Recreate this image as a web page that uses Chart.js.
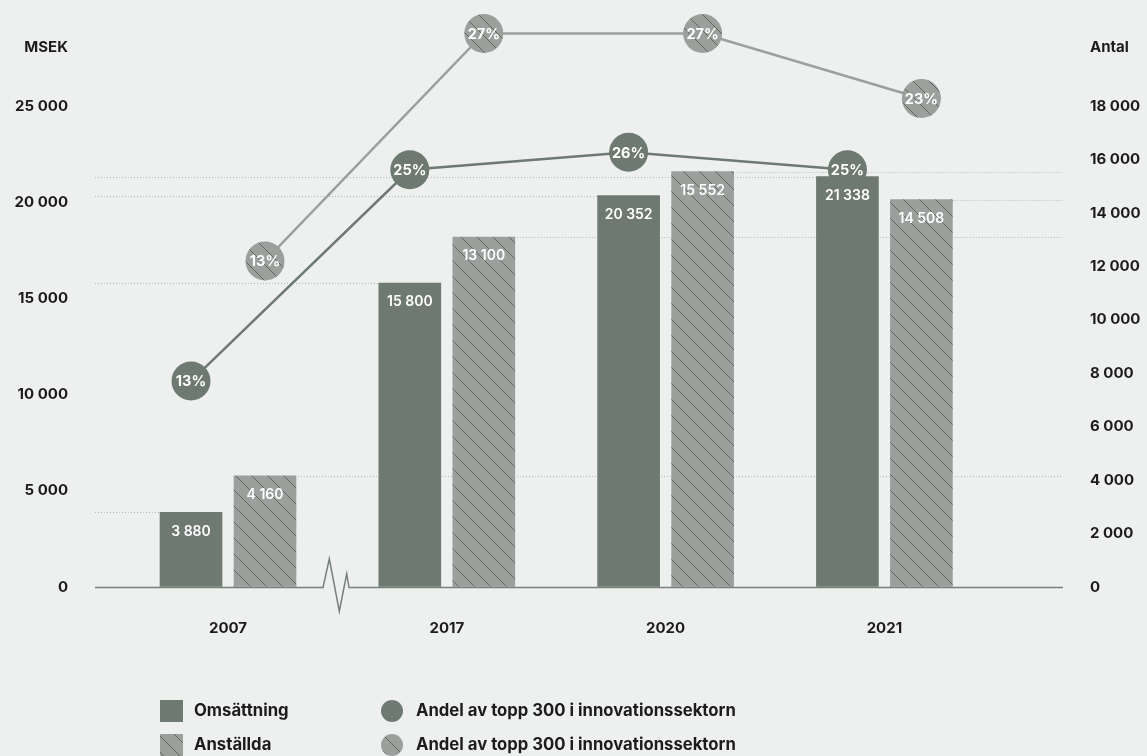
<!DOCTYPE html>
<html lang="sv">
<head>
<meta charset="UTF-8">
<title>Omsättning och anställda</title>
<script src="https://cdn.jsdelivr.net/npm/chart.js"></script>
<style>
  html, body { margin: 0; padding: 0; background: #eef0ef; }
  #wrap { position: relative; width: 1147px; height: 756px; }
</style>
</head>
<body>
<div id="wrap"><canvas id="myChart"></canvas></div>
<script>
const categories = ['2007', '2017', '2020', '2021'];
const omsattning = [3880, 15800, 20352, 21338];   // MSEK
const anstallda = [4160, 13100, 15552, 14508];    // Antal
const andelDark = [13, 25, 26, 25];               // %
const andelLight = [13, 27, 27, 23];              // %
const leftTicks = [0, 5000, 10000, 15000, 20000, 25000];
const rightTicks = [0, 2000, 4000, 6000, 8000, 10000, 12000, 14000, 16000, 18000];
const legendLabels = ['Omsättning', 'Anställda', 'Andel av topp 300 i innovationssektorn', 'Andel av topp 300 i innovationssektorn'];

const DARK = '#6d7971';
const LIGHT = '#9ba09c';
const HATCH = '#5f6b63';
const TEXT = '#1c1c1c';
const FONT = 'Inter, "Noto Sans", sans-serif';

const canvas = document.getElementById('myChart');

// diagonal hatch "\\\\"
function makeHatch() {
  const c = document.createElement('canvas');
  c.width = 16; c.height = 16;
  const g = c.getContext('2d');
  g.fillStyle = LIGHT;
  g.fillRect(0, 0, 16, 16);
  g.strokeStyle = HATCH;
  g.lineWidth = 1;
  g.beginPath();
  g.moveTo(-2, -2); g.lineTo(18, 18);
  g.stroke();
  return canvas.getContext('2d').createPattern(c, 'repeat');
}
const hatch = makeHatch();

function fmt(v) {
  return String(v).replace(/\B(?=(\d{3})+(?!\d))/g, ' ');
}
function pts(arr) {
  return arr.map((v, i) => ({x: i, y: v}));
}

const decor = {
  id: 'decor',
  beforeDatasetsDraw(chart) {
    // dotted guide from each bar top to its own axis
    const {ctx, chartArea} = chart;
    ctx.save();
    ctx.strokeStyle = '#b3b8b4';
    ctx.lineWidth = 1;
    ctx.setLineDash([1, 2]);
    [0, 1].forEach(di => {
      chart.getDatasetMeta(di).data.forEach(el => {
        const y = Math.round(el.y) + 0.5;
        ctx.beginPath();
        if (di === 0) { ctx.moveTo(chartArea.left, y); ctx.lineTo(el.x, y); }
        else { ctx.moveTo(el.x, y); ctx.lineTo(chartArea.right, y); }
        ctx.stroke();
      });
    });
    ctx.restore();
  },
  afterDatasetsDraw(chart) {
    const ctx = chart.ctx;
    ctx.save();
    ctx.fillStyle = '#ffffff';
    ctx.textAlign = 'center';
    ctx.textBaseline = 'middle';
    ctx.font = '600 14px ' + FONT;
    [0, 1].forEach(di => {
      const vals = di === 0 ? omsattning : anstallda;
      chart.getDatasetMeta(di).data.forEach((el, i) => {
        ctx.fillText(fmt(vals[i]), el.x, el.y + 19);
      });
    });
    ctx.font = '700 14.5px ' + FONT;
    [2, 3].forEach(di => {
      const vals = di === 2 ? andelDark : andelLight;
      chart.getDatasetMeta(di).data.forEach((el, i) => {
        ctx.fillText(vals[i] + '%', el.x, el.y + 1);
      });
    });
    ctx.restore();
  },
  afterDraw(chart) {
    const {ctx, chartArea} = chart;
    const xs = chart.scales.x;
    const base = Math.round(chartArea.bottom) + 0.5;
    const mid = xs.getPixelForValue(0.5);
    ctx.save();
    // x axis line with break
    ctx.strokeStyle = '#76817a';
    ctx.lineWidth = 1.5;
    ctx.beginPath();
    ctx.moveTo(chartArea.left, base);
    ctx.lineTo(mid - 14.4, base);
    ctx.lineTo(mid - 8.1, base - 28.7);
    ctx.lineTo(mid + 1.9, base + 23.7);
    ctx.lineTo(mid + 9.3, base - 13.7);
    ctx.lineTo(mid + 11.6, base);
    ctx.lineTo(chartArea.right, base);
    ctx.stroke();

    // axis titles
    ctx.fillStyle = TEXT;
    ctx.font = '700 15px ' + FONT;
    ctx.textBaseline = 'middle';
    ctx.textAlign = 'right';
    ctx.fillText('MSEK', 68, 47);
    ctx.textAlign = 'left';
    ctx.fillText('Antal', 1090, 47);

    // legend
    ctx.fillStyle = DARK;
    ctx.fillRect(160, 700, 23, 22);
    ctx.fillStyle = hatch;
    ctx.fillRect(160, 734, 23, 22);
    ctx.fillStyle = DARK;
    ctx.beginPath(); ctx.arc(392, 711, 11, 0, Math.PI * 2); ctx.fill();
    ctx.fillStyle = hatch;
    ctx.beginPath(); ctx.arc(392, 745, 11, 0, Math.PI * 2); ctx.fill();
    ctx.fillStyle = TEXT;
    ctx.font = '700 16.7px ' + FONT;
    ctx.fillText(legendLabels[0], 194, 711);
    ctx.fillText(legendLabels[1], 194, 745);
    ctx.fillText(legendLabels[2], 416, 711);
    ctx.fillText(legendLabels[3], 416, 745);
    ctx.restore();
  }
};

const tickFont = {family: FONT, size: 15, weight: '700'};
// invisible tick marks push the labels away from the plot (ticks.padding would also pad the top)
const yGrid = {display: true, drawOnChartArea: false, drawTicks: true, tickLength: 27, color: 'rgba(0,0,0,0)'};

const configs = {
  type: 'bar',
  data: {
    datasets: [
      {
        type: 'bar', label: legendLabels[0], data: pts(omsattning),
        backgroundColor: DARK, xAxisID: 'xDark', yAxisID: 'y', order: 2,
        grouped: false, barThickness: 62
      },
      {
        type: 'bar', label: legendLabels[1], data: pts(anstallda),
        backgroundColor: hatch, xAxisID: 'xLight', yAxisID: 'y1', order: 2,
        grouped: false, barThickness: 62
      },
      {
        type: 'line', label: legendLabels[2], data: pts(andelDark),
        borderColor: DARK, borderWidth: 2.5, tension: 0,
        pointRadius: 19.5, pointHoverRadius: 19.5, pointBackgroundColor: DARK, pointBorderWidth: 0,
        xAxisID: 'xDark', yAxisID: 'yDark', order: 1, clip: false
      },
      {
        type: 'line', label: legendLabels[3], data: pts(andelLight),
        borderColor: LIGHT, borderWidth: 2.5, tension: 0,
        pointRadius: 19.5, pointHoverRadius: 19.5, pointBackgroundColor: hatch, pointBorderWidth: 0,
        xAxisID: 'xLight', yAxisID: 'yLight', order: 1, clip: false
      }
    ]
  },
  options: {
    responsive: true,
    maintainAspectRatio: false,
    animation: false,
    events: [],
    layout: {padding: {top: 9, bottom: 109, left: 0, right: 0}},
    plugins: {legend: {display: false}, tooltip: {enabled: false}},
    scales: {
      x: {
        type: 'linear', position: 'bottom', min: -0.6079, max: 3.8162, offset: false,
        grid: {display: false, drawTicks: false}, border: {display: false},
        afterBuildTicks: s => { s.ticks = categories.map((c, i) => ({value: i})); },
        afterFit: s => { s.height = 60; },
        ticks: {callback: v => categories[v], padding: 32, font: tickFont, color: TEXT, autoSkip: false, maxRotation: 0}
      },
      // same scale as x, shifted so each series sits on its own bar slot
      xDark: {type: 'linear', axis: 'x', position: 'bottom', display: false, offset: false, min: -0.6079 + 0.1691, max: 3.8162 + 0.1691},
      xLight: {type: 'linear', axis: 'x', position: 'bottom', display: false, offset: false, min: -0.6079 - 0.1691, max: 3.8162 - 0.1691},
      y: {
        position: 'left', min: 0, max: 29512,
        grid: yGrid, border: {display: false},
        afterBuildTicks: s => { s.ticks = leftTicks.map(v => ({value: v})); },
        afterFit: s => { s.width = 95; },
        ticks: {callback: v => fmt(v), crossAlign: 'near', padding: 0, font: tickFont, color: TEXT}
      },
      y1: {
        position: 'right', min: 0, max: 21249,
        grid: yGrid, border: {display: false},
        afterBuildTicks: s => { s.ticks = rightTicks.map(v => ({value: v})); },
        afterFit: s => { s.width = 84; },
        ticks: {callback: v => fmt(v), crossAlign: 'near', padding: 0, font: tickFont, color: TEXT}
      },
      yDark: {type: 'linear', axis: 'y', position: 'left', display: false, min: 1.30, max: 33.54},
      yLight: {type: 'linear', axis: 'y', position: 'right', display: false, min: -7.07, max: 27.86}
    }
  },
  plugins: [decor]
};

let myChart = new Chart(canvas, configs);
</script>
</body>
</html>
